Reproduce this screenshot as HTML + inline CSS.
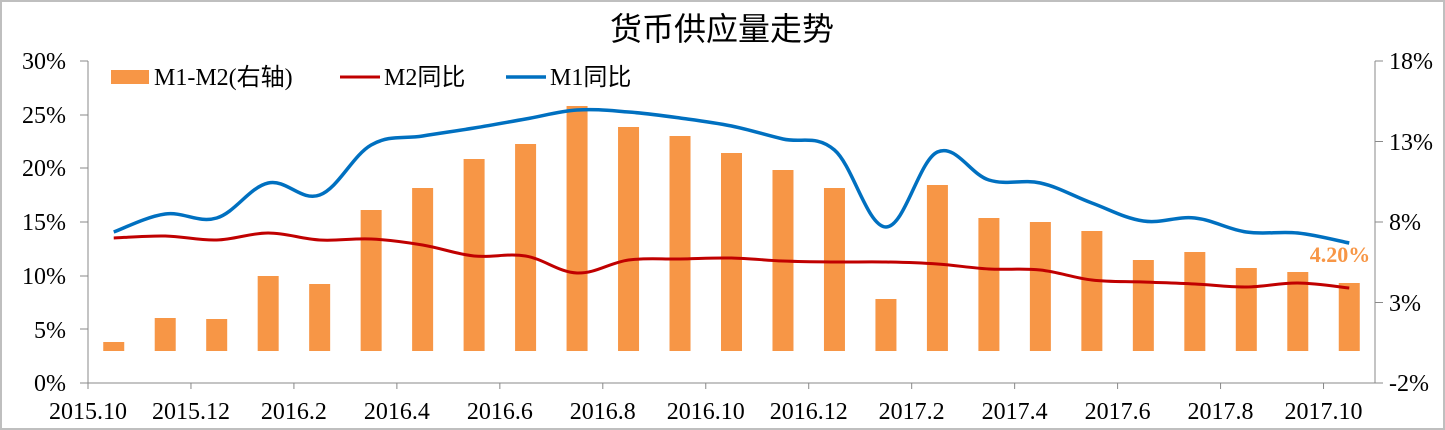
<!DOCTYPE html>
<html><head><meta charset="utf-8">
<style>
html,body{margin:0;padding:0;background:#fff;}
svg{display:block;font-family:"Liberation Serif","Noto Serif CJK SC",serif;}
</style></head>
<body>
<svg id="c" width="1445" height="430" viewBox="0 0 1445 430" xmlns="http://www.w3.org/2000/svg">
<rect x="1" y="1" width="1443" height="428" fill="#fff" stroke="#bfbfbf" stroke-width="2"/>
<text x="722" y="40" font-size="32" text-anchor="middle" font-family="'Noto Sans CJK SC',sans-serif" fill="#000">货币供应量走势</text>
<g id="bars" fill="#f79646"></g>
<g stroke="#888" stroke-width="1" fill="none">
<line x1="88" y1="61" x2="88" y2="383"/>
<line x1="1375" y1="61" x2="1375" y2="383"/>
<line x1="88" y1="383" x2="1375" y2="383"/>
</g>
<g id="ticks" stroke="#888" stroke-width="1"></g>
<g font-size="24" fill="#000">
<text x="66" y="69" text-anchor="end">30%</text>
<text x="66" y="123" text-anchor="end">25%</text>
<text x="66" y="176" text-anchor="end">20%</text>
<text x="66" y="230" text-anchor="end">15%</text>
<text x="66" y="284" text-anchor="end">10%</text>
<text x="66" y="338" text-anchor="end">5%</text>
<text x="66" y="391" text-anchor="end">0%</text>
<text x="1389" y="69">18%</text>
<text x="1389" y="150">13%</text>
<text x="1389" y="230">8%</text>
<text x="1389" y="311">3%</text>
<text x="1389" y="391">-2%</text>
</g>
<g id="xl" font-size="24" fill="#000" text-anchor="middle"></g>
<path id="m2" fill="none" stroke="#c00000" stroke-width="3"/>
<path id="m1" fill="none" stroke="#0070c0" stroke-width="3.5"/>
<text x="1340" y="262" font-size="22" font-weight="bold" fill="#f79646" text-anchor="middle">4.20%</text>
<g font-size="24" fill="#000">
<rect x="111" y="70" width="38" height="14" fill="#f79646"/>
<text x="154" y="85" font-family="'Liberation Serif','Noto Sans CJK SC',serif">M1-M2(右轴)</text>
<line x1="340" y1="77" x2="380" y2="77" stroke="#c00000" stroke-width="3"/>
<text x="384" y="85" font-family="'Liberation Serif','Noto Sans CJK SC',serif">M2同比</text>
<line x1="506" y1="77" x2="546" y2="77" stroke="#0070c0" stroke-width="3.5"/>
<text x="550" y="85" font-family="'Liberation Serif','Noto Sans CJK SC',serif">M1同比</text>
</g>
</svg>
<script>
var ns="http://www.w3.org/2000/svg";
var step=1287/25;
function cx(i){return 88+step/2+step*i;}
var bt=[342,318,319,276,284,210,188,159,144,106,127,136,153,170,188,299,185,218,222,231,260,252,268,272,283];
var g=document.getElementById('bars');
bt.forEach(function(t,i){var r=document.createElementNS(ns,'rect');r.setAttribute('x',cx(i)-10.5);r.setAttribute('width',21);r.setAttribute('y',t);r.setAttribute('height',351-t);g.appendChild(r);});
var m1=[232,214,218,183,195,145,136,128,119,110,112,118,126,139,150,227,152,180,183,203,221,218,232,233,243];
var m2=[238,236,240,233,240,239,245,256,256,273,260,259,258,261,262,262,264,269,270,280,282,284,287,283,288];
function path(a){var p=a.map(function(y,i){return[cx(i),y];});var d="M"+p[0][0]+","+p[0][1];
for(var i=0;i<p.length-1;i++){var p0=p[i-1]||p[i],p1=p[i],p2=p[i+1],p3=p[i+2]||p2;var t=0.36;
var c1=[p1[0]+(p2[0]-p0[0])*t/2,p1[1]+(p2[1]-p0[1])*t/2],c2=[p2[0]-(p3[0]-p1[0])*t/2,p2[1]-(p3[1]-p1[1])*t/2];
d+=" C"+c1+" "+c2+" "+p2;}return d;}
document.getElementById('m1').setAttribute('d',path(m1));
document.getElementById('m2').setAttribute('d',path(m2));
var tk=document.getElementById('ticks'),h='';
for(var i=0;i<=24;i+=2){var x=88+step*i;h+='<line x1="'+x+'" y1="383" x2="'+x+'" y2="389"/>';}
[61,115,168,222,276,329,383].forEach(function(y){h+='<line x1="80" y1="'+y+'" x2="88" y2="'+y+'"/>';});
[61,141.5,222,302.5,383].forEach(function(y){h+='<line x1="1375" y1="'+y+'" x2="1383" y2="'+y+'"/>';});
tk.innerHTML=h;
var labs=["2015.10","2015.12","2016.2","2016.4","2016.6","2016.8","2016.10","2016.12","2017.2","2017.4","2017.6","2017.8","2017.10"];
var xl=document.getElementById('xl'),s='';
labs.forEach(function(l,i){s+='<text x="'+(88+step*2*i)+'" y="419">'+l+'</text>';});
xl.innerHTML=s;
</script>
</body></html>
